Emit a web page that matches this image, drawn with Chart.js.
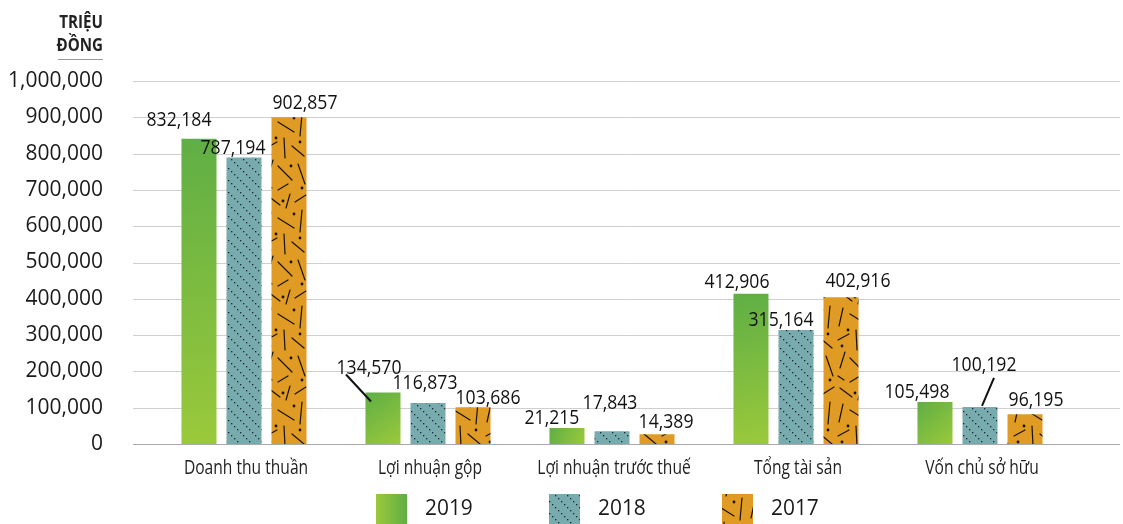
<!DOCTYPE html>
<html>
<head>
<meta charset="utf-8">
<script src="https://cdn.jsdelivr.net/npm/chart.js@4.4.1/dist/chart.umd.min.js"></script>
<style>
  html, body { margin: 0; padding: 0; background: #fff; }
  #wrap { width: 1123px; height: 524px; }
</style>
</head>
<body>
<div id="wrap"><canvas id="chart" width="1123" height="524"></canvas></div>
<script>
// categories + series (bar heights as drawn) + printed labels
const categories = ["Doanh thu thuần", "Lợi nhuận gộp", "Lợi nhuận trước thuế", "Tổng tài sản", "Vốn chủ sở hữu"];
const years = ["2019", "2018", "2017"];

const bars2019 = [841000, 142000, 44000, 414000, 116000];
const bars2018 = [789000, 113000, 35000, 314000, 102000];
const bars2017 = [900000, 101000, 27000, 404000, 82000];

const printed2019 = [832184, 134570, 21215, 412906, 105498];
const printed2018 = [787194, 116873, 17843, 315164, 100192];
const printed2017 = [902857, 103686, 14389, 402916, 96195];

const yTicks = [0, 100000, 200000, 300000, 400000, 500000, 600000, 700000, 800000, 900000, 1000000];
const unitLines = ["TRIỆU", "ĐỒNG"];

// where each value label sits relative to the top centre of its bar (style only)
const labelShift = [
  [[-20, -18], [-14, -24], [-15, -10], [-14, -11], [-18, -10]],
  [[-11, -9], [-3, -20], [-2, -28], [-15, -10], [4, -42]],
  [[16, -14], [15, -9], [9, -12], [17, -16], [11, -14]]
];
// leader lines: dataset, index, from (dx,dy) to (dx,dy) relative to bar top centre
const leaders = [
  { ds: 0, i: 1, from: [-37, -18], to: [-12, 9] },
  { ds: 1, i: 4, from: [14, -29], to: [2, -1] }
];

const baseFont = "'Open Sans', sans-serif";
const fmt = v => v.toLocaleString("en-US");

const canvas = document.getElementById("chart");
const ctx = canvas.getContext("2d");

// draw text squeezed horizontally (the original uses a condensed face)
function squeezed(c, text, x, y, sx) {
  c.save();
  c.translate(x, y);
  c.scale(sx, 1);
  c.fillText(text, 0, 0);
  c.restore();
}

// --- fills ---
function tile(w, h, draw) {
  const c = document.createElement("canvas");
  c.width = w; c.height = h;
  draw(c.getContext("2d"));
  return ctx.createPattern(c, "repeat");
}

const tealDots = tile(12, 12, t => {
  t.fillStyle = "#78abae";
  t.fillRect(0, 0, 12, 12);
  t.fillStyle = "#1c2a2b";
  for (let k = 0; k < 12; k += 3) t.fillRect(k, k, 1.3, 1.3);
});

// hand-placed dashes and dots for the 2017 texture
const orangeDashes = tile(44, 96, t => {
  t.fillStyle = "#e09b25";
  t.fillRect(0, 0, 44, 96);
  t.strokeStyle = "#1a1208";
  t.lineWidth = 1.2;
  t.lineCap = "round";
  [[4, 4, 16, 13], [26, 2, 22, 16], [31, 10, 42, 3], [7, 20, 3, 38], [14, 26, 30, 36],
   [38, 18, 36, 40], [20, 42, 21, 62], [2, 52, 13, 46], [28, 50, 40, 60], [9, 64, 4, 80],
   [14, 70, 28, 84], [34, 68, 41, 88], [24, 88, 14, 94], [2, 88, 8, 92]]
    .forEach(s => { t.beginPath(); t.moveTo(s[0], s[1]); t.lineTo(s[2], s[3]); t.stroke(); });
  t.fillStyle = "#1a1208";
  [[30, 22], [12, 42], [36, 46], [19, 9], [27, 70], [6, 58], [38, 92]].forEach(d => {
    t.beginPath(); t.arc(d[0], d[1], 1.4, 0, Math.PI * 2); t.fill();
  });
});

// green gradient per bar (dark top-left to light bottom-right)
const greenBars = {
  id: "greenBars",
  afterDatasetsUpdate(chart) {
    chart.getDatasetMeta(0).data.forEach(el => {
      const g = chart.ctx.createLinearGradient(el.x - el.width / 2, el.y, el.x + el.width / 2, el.base);
      g.addColorStop(0, "#5fae45");
      g.addColorStop(1, "#9bc93b");
      el.options = Object.assign({}, el.options, { backgroundColor: g });
    });
  }
};

// grid lines run wider than the category band
const wideGrid = {
  id: "wideGrid",
  beforeDatasetsDraw(chart) {
    const c = chart.ctx, y = chart.scales.y;
    c.save();
    c.lineWidth = 1;
    yTicks.forEach(v => {
      const py = Math.round(y.getPixelForValue(v)) + 0.5;
      c.strokeStyle = v === 0 ? "#a9a9a9" : "#cfcfcf";
      c.beginPath(); c.moveTo(133, py); c.lineTo(1120, py); c.stroke();
    });
    c.restore();
  }
};

const categoryLabels = {
  id: "categoryLabels",
  afterDraw(chart) {
    const c = chart.ctx, x = chart.scales.x;
    c.save();
    c.font = "20px " + baseFont;
    c.fillStyle = "#222";
    c.textAlign = "center";
    c.textBaseline = "alphabetic";
    categories.forEach((t, i) => squeezed(c, t, x.getPixelForValue(i) + 2, 474, 0.78));
    c.restore();
  }
};

const valueLabels = {
  id: "valueLabels",
  afterDatasetsDraw(chart) {
    const c = chart.ctx;
    const printed = [printed2019, printed2018, printed2017];
    c.save();
    c.font = "20px " + baseFont;
    c.fillStyle = "#111";
    c.textAlign = "center";
    c.textBaseline = "middle";
    printed.forEach((arr, ds) => {
      const meta = chart.getDatasetMeta(ds);
      arr.forEach((v, i) => {
        const el = meta.data[i];
        const s = labelShift[ds][i];
        squeezed(c, fmt(v), el.x + s[0], el.y + s[1], 0.88);
      });
    });
    c.strokeStyle = "#111";
    c.lineWidth = 2;
    leaders.forEach(l => {
      const el = chart.getDatasetMeta(l.ds).data[l.i];
      c.beginPath();
      c.moveTo(el.x + l.from[0], el.y + l.from[1]);
      c.lineTo(el.x + l.to[0], el.y + l.to[1]);
      c.stroke();
    });
    c.restore();
  }
};

const unitTitle = {
  id: "unitTitle",
  afterDraw(chart) {
    const c = chart.ctx;
    c.save();
    c.font = "bold 18px " + baseFont;
    c.fillStyle = "#222";
    c.textAlign = "right";
    c.textBaseline = "middle";
    squeezed(c, unitLines[0], 103, 23, 0.84);
    squeezed(c, unitLines[1], 103, 46, 0.84);
    c.strokeStyle = "#9a9a9a";
    c.lineWidth = 1;
    c.beginPath(); c.moveTo(58, 59.5); c.lineTo(103, 59.5); c.stroke();
    c.restore();
  }
};

const bottomLegend = {
  id: "bottomLegend",
  afterDraw(chart) {
    const c = chart.ctx;
    c.save();
    c.font = "22px " + baseFont;
    c.textBaseline = "middle";
    chart.data.datasets.forEach((d, k) => {
      const bx = 376 + k * 173, by = 494, bw = 31, bh = 30;
      let fill = d.backgroundColor;
      if (k === 0) {
        fill = c.createLinearGradient(bx, 0, bx + bw, 0);
        fill.addColorStop(0, "#9bc93b");
        fill.addColorStop(1, "#5fae45");
      }
      c.fillStyle = fill;
      c.fillRect(bx, by, bw, bh);
      c.fillStyle = "#1a1a1a";
      squeezed(c, d.label, bx + bw + 18, by + 15, 0.95);
    });
    c.restore();
  }
};

new Chart(canvas, {
  type: "bar",
  data: {
    labels: categories,
    datasets: [
      { label: years[0], data: bars2019, backgroundColor: "#7dba3f" },
      { label: years[1], data: bars2018, backgroundColor: tealDots },
      { label: years[2], data: bars2017, backgroundColor: orangeDashes }
    ]
  },
  options: {
    responsive: false,
    animation: false,
    events: [],
    layout: { padding: { top: 81, right: 51, left: 0, bottom: 0 } },
    datasets: { bar: { barPercentage: 0.778, categoryPercentage: 0.734 } },
    plugins: { legend: { display: false }, tooltip: { enabled: false } },
    scales: {
      x: {
        grid: { display: false },
        border: { display: false },
        ticks: { display: false },
        afterFit: s => { s.height = 80; }
      },
      y: {
        min: 0,
        max: 1000000,
        grid: { display: false, drawTicks: false },
        border: { display: false },
        ticks: {
          stepSize: 100000,
          padding: 49,
          font: { family: baseFont, size: 21 },
          color: "#1a1a1a",
          callback: v => fmt(v)
        },
        afterFit: s => { s.width = 152; }
      }
    }
  },
  plugins: [greenBars, wideGrid, valueLabels, categoryLabels, unitTitle, bottomLegend]
});
</script>
</body>
</html>
